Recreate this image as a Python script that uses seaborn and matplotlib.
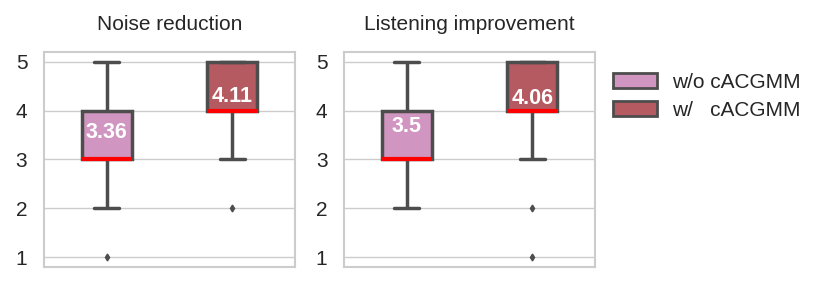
import numpy as np
import pandas as pd
import matplotlib.pyplot as plt
import seaborn as sns
from matplotlib.patches import Patch

# ratings 1..5 and how many listeners gave each score
scores = [1, 2, 3, 4, 5]
methods = ['w/o cACGMM', 'w/   cACGMM']
panels = ['Noise reduction', 'Listening improvement']

noise_wo = [1, 4, 14, 15, 2]
noise_w = [0, 1, 4, 21, 10]
listen_wo = [0, 4, 15, 12, 5]
listen_w = [1, 1, 3, 21, 10]

colors = ['#D095C0', '#B55A60']
line_col = '#4d4d4d'

counts = {
    'Noise reduction': [noise_wo, noise_w],
    'Listening improvement': [listen_wo, listen_w],
}

rows = []
for panel in panels:
    for m, c in zip(methods, counts[panel]):
        for s, n in zip(scores, c):
            rows += [{'panel': panel, 'method': m, 'score': s}] * n
df = pd.DataFrame(rows)

sns.set_theme(style='whitegrid')
plt.rcParams['font.family'] = ['Liberation Sans', 'DejaVu Sans']

fig, axes = plt.subplots(1, 2, figsize=(8.3, 2.83), dpi=100)
fig.subplots_adjust(left=0.053, right=0.717, bottom=0.057, top=0.816, wspace=0.196)

for ax, panel in zip(axes, panels):
    d = df[df['panel'] == panel]
    sns.boxplot(data=d, x='method', y='score', hue='method', order=methods,
                hue_order=methods, palette=colors, saturation=1, width=0.4,
                dodge=False, linewidth=2.5, linecolor=line_col, legend=False,
                medianprops=dict(color='red', linewidth=3),
                flierprops=dict(marker='d', markersize=3.5,
                                markerfacecolor=line_col, markeredgecolor=line_col),
                ax=ax)
    means = d.groupby('method')['score'].mean()
    for i, m in enumerate(methods):
        mu = means[m]
        ax.text(i, mu - 0.03, f'{round(mu, 2):g}', ha='center', va='bottom',
                color='white', fontsize=15.5, fontweight='bold')
    ax.set_title(panel, fontsize=15, pad=16)
    ax.set_xlabel('')
    ax.set_ylabel('')
    ax.set_xticks([])
    ax.set_yticks(scores)
    ax.tick_params(axis='y', labelsize=15, pad=6)
    for sp in ax.spines.values():
        sp.set_color('#cccccc')
        sp.set_linewidth(1.5)

handles = [Patch(facecolor=c, edgecolor=line_col, linewidth=2) for c in colors]
fig.legend(handles, methods, loc='upper left', bbox_to_anchor=(0.716, 0.81),
           frameon=False, fontsize=15, handlelength=2.1, handleheight=0.72,
           labelspacing=0.45, handletextpad=0.75)

fig.savefig('out.png', dpi=100)
